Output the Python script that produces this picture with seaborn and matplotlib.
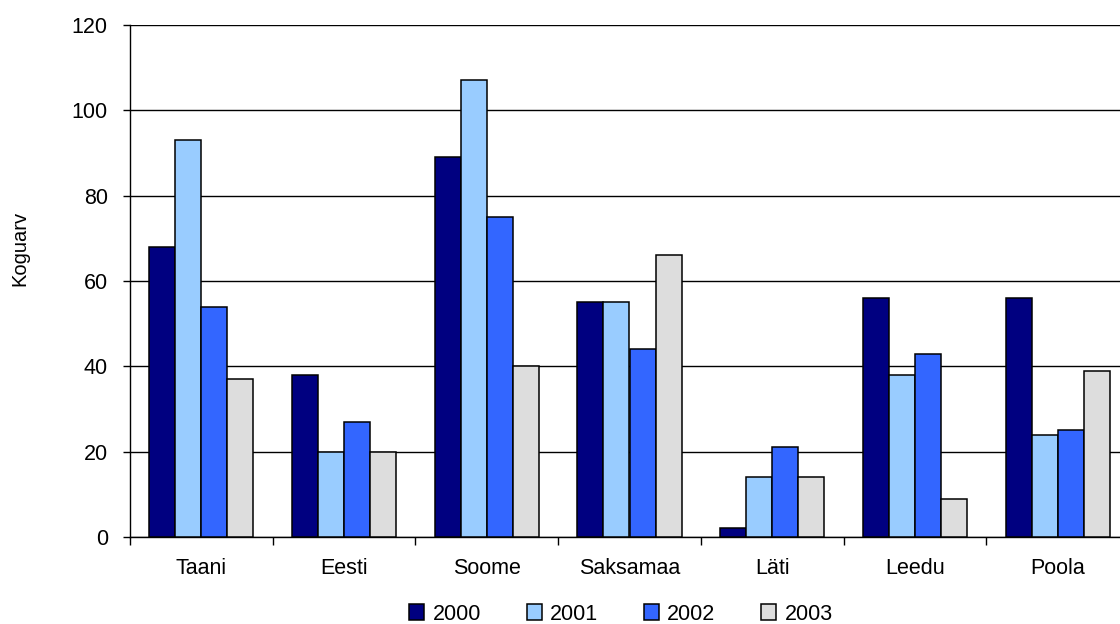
import matplotlib
matplotlib.use("Agg")
import matplotlib.pyplot as plt
import seaborn as sns
import pandas as pd
import numpy as np

countries = ["Taani", "Eesti", "Soome", "Saksamaa", "Läti", "Leedu", "Poola"]
years = ["2000", "2001", "2002", "2003"]
v2000 = [68, 38, 89, 55, 2, 56, 56]
v2001 = [93, 20, 107, 55, 14, 38, 24]
v2002 = [54, 27, 75, 44, 21, 43, 25]
v2003 = [37, 20, 40, 66, 14, 9, 39]
colors = ["#000080", "#99CCFF", "#3366FF", "#DDDDDD"]
y_ticks = [0, 20, 40, 60, 80, 100, 120]
y_label = "Koguarv"

series = [v2000, v2001, v2002, v2003]
df = pd.DataFrame({
    "Riik": [c for _ in years for c in countries],
    "Aasta": [y for y in years for _ in countries],
    "Koguarv": [v for s in series for v in s],
})

sns.set_style("white")
plt.rcParams["font.family"] = ["Liberation Sans", "DejaVu Sans"]
plt.rcParams["text.color"] = "black"
plt.rcParams["xtick.color"] = "black"
plt.rcParams["ytick.color"] = "black"
plt.rcParams["xtick.labelcolor"] = "black"
plt.rcParams["ytick.labelcolor"] = "black"

fig = plt.figure(figsize=(11.2, 6.24), dpi=100)
ax = fig.add_axes([130 / 1120, 87 / 624, 999 / 1120, 512 / 624])

sns.barplot(data=df, x="Riik", y="Koguarv", hue="Aasta", order=countries,
            hue_order=years, palette=colors, width=0.73, gap=0,
            edgecolor="black", linewidth=1.1, saturation=1, ax=ax,
            legend=True, zorder=3)

ax.set_xlim(-0.5, len(countries) - 0.5)
ax.set_ylim(0, 120)
ax.set_yticks(y_ticks)
ax.set_yticklabels([str(t) for t in y_ticks])
ax.yaxis.grid(True, color="black", linewidth=1.0, zorder=0)
ax.xaxis.grid(False)
ax.set_axisbelow(True)

# category boundaries as major ticks, names centred on minor ticks
ax.set_xticks(np.arange(len(countries) + 1) - 0.5)
ax.set_xticklabels([])
ax.set_xticks(np.arange(len(countries)), minor=True)
ax.set_xticklabels(countries, minor=True)
ax.tick_params(axis="x", which="major", direction="out", length=6, width=1, color="black", bottom=True)
ax.tick_params(axis="x", which="minor", length=0, pad=15, labelsize=15.5, labelcolor="black")
ax.tick_params(axis="y", direction="out", length=5, width=1, color="black", left=True,
               pad=11, labelsize=15.5, labelcolor="black")

for s in ["top", "right"]:
    ax.spines[s].set_visible(False)
for s in ["left", "bottom"]:
    ax.spines[s].set_color("black")
    ax.spines[s].set_linewidth(1.0)

ax.set_xlabel("")
ax.set_ylabel("")
fig.text(20 / 1120, 1 - 248 / 624, y_label, rotation=90, ha="center", va="center",
         fontsize=14.5, color="black")

handles, labels = ax.get_legend_handles_labels()
ax.legend_.remove()
leg = fig.legend(handles, labels, loc="center", bbox_to_anchor=(621 / 1120, 1 - 614 / 624),
                 ncol=4, frameon=False, fontsize=15.5, handlelength=0.7, handleheight=0.7,
                 handletextpad=0.4, columnspacing=2.1, borderaxespad=0)
for t in leg.get_texts():
    t.set_color("black")

fig.savefig("out.png", dpi=100)
